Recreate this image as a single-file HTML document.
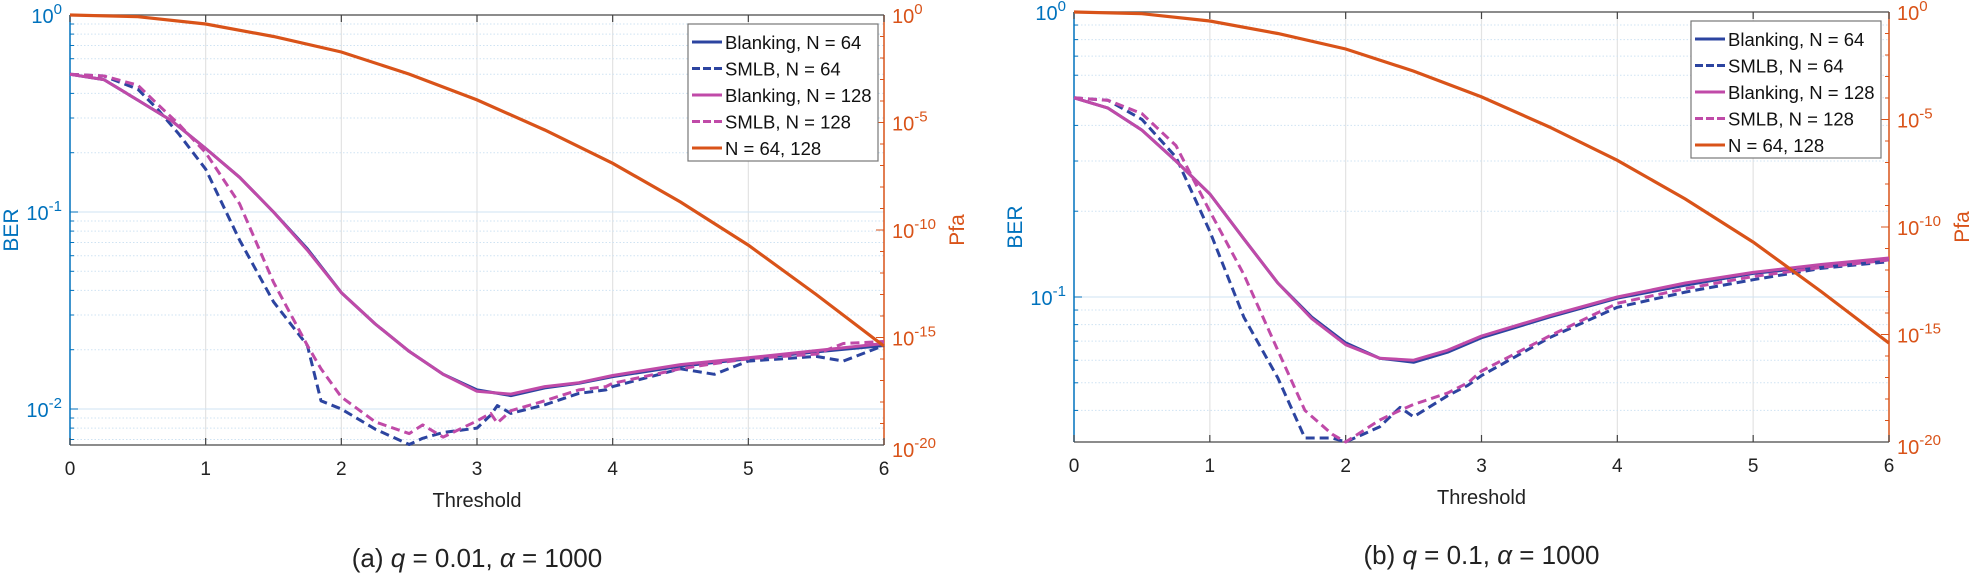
<!DOCTYPE html>
<html><head><meta charset="utf-8"><style>
body{margin:0;background:#fff;width:1971px;height:575px;overflow:hidden}
svg{display:block}
text{font-family:"Liberation Sans",sans-serif}
</style></head><body>
<svg id="svg" width="1971" height="575" xmlns="http://www.w3.org/2000/svg"></svg>
<script>
const NS="http://www.w3.org/2000/svg";
const svg=document.getElementById('svg');
// shared data
const pfaT=[0,0.5,1,1.5,2,2.5,3,3.5,4,4.5,5,5.5,6];
const pfaLog=[0,-0.08,-0.42,-1.0,-1.72,-2.75,-3.95,-5.35,-6.9,-8.7,-10.7,-13.0,-15.4];
const xTicks=[0,1,2,3,4,5,6];
const pfaTicks=[0,-5,-10,-15,-20];
// panel a
const aBlankT=[0,0.25,0.5,0.75,1,1.25,1.5,1.75,2,2.25,2.5,2.75,3,3.25,3.5,3.75,4,4.5,5,5.5,6];
const aBlank64=[0.5,0.47,0.37,0.29,0.21,0.15,0.1,0.065,0.039,0.027,0.0196,0.015,0.0125,0.0117,0.0128,0.0135,0.0146,0.0165,0.018,0.0195,0.021];
const aBlank128=[0.5,0.47,0.37,0.29,0.21,0.15,0.1,0.064,0.039,0.027,0.0196,0.015,0.0123,0.0119,0.013,0.0136,0.0148,0.0168,0.0182,0.0198,0.0215];
const aSmlbT=[0,0.25,0.5,0.65,0.8,1,1.25,1.5,1.75,1.85,2,2.25,2.5,2.6,2.75,3,3.1,3.15,3.25,3.5,3.75,3.95,4,4.5,4.75,5,5.5,5.7,6];
const aSmlb64=[0.5,0.49,0.42,0.33,0.25,0.165,0.072,0.035,0.021,0.011,0.01,0.0079,0.0066,0.0071,0.0076,0.008,0.0093,0.0104,0.0095,0.0105,0.012,0.0125,0.013,0.016,0.015,0.0175,0.0185,0.0175,0.021];
const aSmlb128=[0.5,0.49,0.44,0.35,0.28,0.2,0.11,0.044,0.021,0.016,0.0115,0.0086,0.0075,0.0083,0.0072,0.0087,0.0095,0.0085,0.0098,0.011,0.0125,0.013,0.0135,0.016,0.017,0.018,0.019,0.0215,0.022];
// panel b
const bBlankT=[0,0.25,0.5,0.75,1,1.25,1.5,1.75,2,2.25,2.5,2.75,3,3.5,4,4.5,5,5.5,6];
const bBlank64=[0.5,0.46,0.385,0.3,0.23,0.16,0.112,0.085,0.069,0.061,0.059,0.064,0.072,0.085,0.099,0.11,0.121,0.128,0.135];
const bBlank128=[0.5,0.46,0.385,0.3,0.23,0.16,0.112,0.084,0.068,0.061,0.06,0.065,0.073,0.086,0.1,0.112,0.122,0.13,0.137];
const bSmlbT=[0,0.25,0.5,0.75,1,1.25,1.5,1.7,1.9,2,2.25,2.4,2.5,2.75,2.9,3,3.5,4,4.5,5,5.5,6];
const bSmlb64=[0.5,0.49,0.42,0.31,0.17,0.085,0.052,0.032,0.032,0.031,0.035,0.041,0.038,0.045,0.049,0.053,0.072,0.092,0.104,0.115,0.126,0.133];
const bSmlb128=[0.5,0.49,0.44,0.34,0.2,0.12,0.065,0.04,0.033,0.031,0.037,0.04,0.042,0.046,0.05,0.055,0.073,0.095,0.107,0.118,0.127,0.135];

const C={b:'#2c44a0',m:'#c04aa8',o:'#d95319',ax:'#0072bd'};
function el(tag,attrs,parent){const e=document.createElementNS(NS,tag);for(const k in attrs)e.setAttribute(k,attrs[k]);(parent||svg).appendChild(e);return e;}

function panel(p){
  const g=el('g',{});
  
  
  const X=t=>p.x0+(p.x1-p.x0)*t/6;
  const YB=v=>p.y0-(p.yd-p.y0)*Math.log10(v); // yd = y of 10^-1
  const YP=l=>p.y0+(p.y1-p.y0)*(-l)/20;
  for(const t of xTicks){ if(t>0&&t<6) el('line',{x1:X(t),x2:X(t),y1:p.y0,y2:p.y1,stroke:'#e3e3e3','stroke-width':1.2},g);}
  const minDec=Math.floor(Math.log10(p.bmin));
  for(let d=0;d>=minDec;d--){
    for(let k=1;k<10;k++){
      const val=k*Math.pow(10,d);
      if(val<p.bmin||val>1)continue;
      const y=YB(val);
      el('line',{x1:p.x0,x2:p.x1,y1:y,y2:y,stroke:'#cfe3f3','stroke-width':1,'stroke-dasharray':k===1?'':'1.5,2'},g);
      el('line',{x1:p.x0,x2:p.x0+(k===1?8:4),y1:y,y2:y,stroke:C.ax,'stroke-width':1},g);
    }
  }
  for(let l=0;l>=-20;l--){const y=YP(l);el('line',{x1:p.x1,x2:p.x1-(l%5===0?8:4),y1:y,y2:y,stroke:C.o,'stroke-width':1},g);}
  el('line',{x1:p.x0,x2:p.x1,y1:p.y0,y2:p.y0,stroke:'#666','stroke-width':1.5},g);
  el('line',{x1:p.x0,x2:p.x1,y1:p.y1,y2:p.y1,stroke:'#666','stroke-width':1.5},g);
  el('line',{x1:p.x0,x2:p.x0,y1:p.y0,y2:p.y1,stroke:C.ax,'stroke-width':1.5},g);
  el('line',{x1:p.x1,x2:p.x1,y1:p.y0,y2:p.y1,stroke:C.o,'stroke-width':1.5},g);
  for(const t of xTicks){
    el('line',{x1:X(t),x2:X(t),y1:p.y1,y2:p.y1-7,stroke:'#444','stroke-width':1.2},g);
    el('line',{x1:X(t),x2:X(t),y1:p.y0,y2:p.y0+7,stroke:'#444','stroke-width':1.2},g);
    const tx=el('text',{x:X(t),y:p.y1+30,'font-size':19,'text-anchor':'middle',fill:'#222'},g);
    tx.textContent=t;
    
    
  }
  for(let d=0;Math.pow(10,d)>=p.bmin;d--){
    const tx=el('text',{x:p.x0-8,y:YB(Math.pow(10,d))+8,'font-size':20,'text-anchor':'end',fill:C.ax},g);
    tx.innerHTML='10<tspan dy="-9" font-size="15">'+d+'</tspan>';
    
    
  }
  for(const l of pfaTicks){
    const tx=el('text',{x:p.x1+8,y:YP(l)+(l===-20?12:8),'font-size':20,fill:C.o},g);
    tx.innerHTML='10<tspan dy="-9" font-size="15">'+l+'</tspan>';
    
    
  }
  const yl=el('text',{x:0,y:0,'font-size':21,fill:C.ax,'text-anchor':'middle',transform:`translate(${p.x0-52},${(p.y0+p.y1)/2}) rotate(-90)`},g);
  yl.textContent='BER';
  
  
  const yr=el('text',{x:0,y:0,'font-size':21,fill:C.o,'text-anchor':'middle',transform:`translate(${p.x1+80},${(p.y0+p.y1)/2}) rotate(-90)`},g);
  yr.textContent='Pfa';
  
  
  const xl=el('text',{x:(p.x0+p.x1)/2,y:p.y1+62,'font-size':20,'text-anchor':'middle',fill:'#222'},g);
  xl.textContent='Threshold';
  
  
  const cap=el('text',{x:(p.x0+p.x1)/2,y:p.y1+122,'font-size':26,'text-anchor':'middle',fill:'#222','font-family':'Liberation Serif, serif'},g);
  cap.innerHTML=p.cap;
  
  
  const series=[
    [p.bt,p.b64,C.b,''],[p.st,p.s64,C.b,'9,5'],[p.bt,p.b128,C.m,''],[p.st,p.s128,C.m,'9,5']];
  const names=['blanking-n64-line','smlb-n64-line','blanking-n128-line','smlb-n128-line'];
  series.forEach((s,i)=>{
    const d=s[0].map((t,j)=>(j?'L':'M')+X(t).toFixed(1)+','+YB(s[1][j]).toFixed(1)).join('');
    const pa=el('path',{d,fill:'none',stroke:s[2],'stroke-width':3,'stroke-dasharray':s[3],'stroke-linejoin':'round'},g);
    
    
  });
  const dp=pfaT.map((t,j)=>(j?'L':'M')+X(t).toFixed(1)+','+YP(pfaLog[j]).toFixed(1)).join('');
  const pf=el('path',{d:dp,fill:'none',stroke:C.o,'stroke-width':3.2},g);
  
  
  const lx=p.lx,ly=p.ly;
  const lg=el('g',{},g);
  
  
  el('rect',{x:lx,y:ly,width:190,height:137,fill:'#fff',stroke:'#777','stroke-width':1.2},lg);
  const items=[['Blanking, N = 64',C.b,''],['SMLB, N = 64',C.b,'8,3'],['Blanking, N = 128',C.m,''],['SMLB, N = 128',C.m,'8,3'],['N = 64, 128',C.o,'']];
  items.forEach((it,i)=>{
    const yy=ly+18+i*26.5;
    el('line',{x1:lx+4,x2:lx+34,y1:yy,y2:yy,stroke:it[1],'stroke-width':3,'stroke-dasharray':it[2]},lg);
    const t=el('text',{x:lx+37,y:yy+7,'font-size':18.5,fill:'#111'},lg);
    t.textContent=it[0];
    
    
  });
}
panel({name:'panel-a',x0:70,x1:884,y0:15,y1:445,yd:212,bmin:0.0066,lx:688,ly:24,
  bt:aBlankT,b64:aBlank64,b128:aBlank128,st:aSmlbT,s64:aSmlb64,s128:aSmlb128,
  cap:'(a) <tspan font-style="italic">q</tspan> = 0.01, <tspan font-style="italic">α</tspan> = 1000'});
panel({name:'panel-b',x0:1074,x1:1889,y0:12,y1:442,yd:297,bmin:0.031,lx:1691,ly:21,
  bt:bBlankT,b64:bBlank64,b128:bBlank128,st:bSmlbT,s64:bSmlb64,s128:bSmlb128,
  cap:'(b) <tspan font-style="italic">q</tspan> = 0.1, <tspan font-style="italic">α</tspan> = 1000'});
</script>
</body></html>
